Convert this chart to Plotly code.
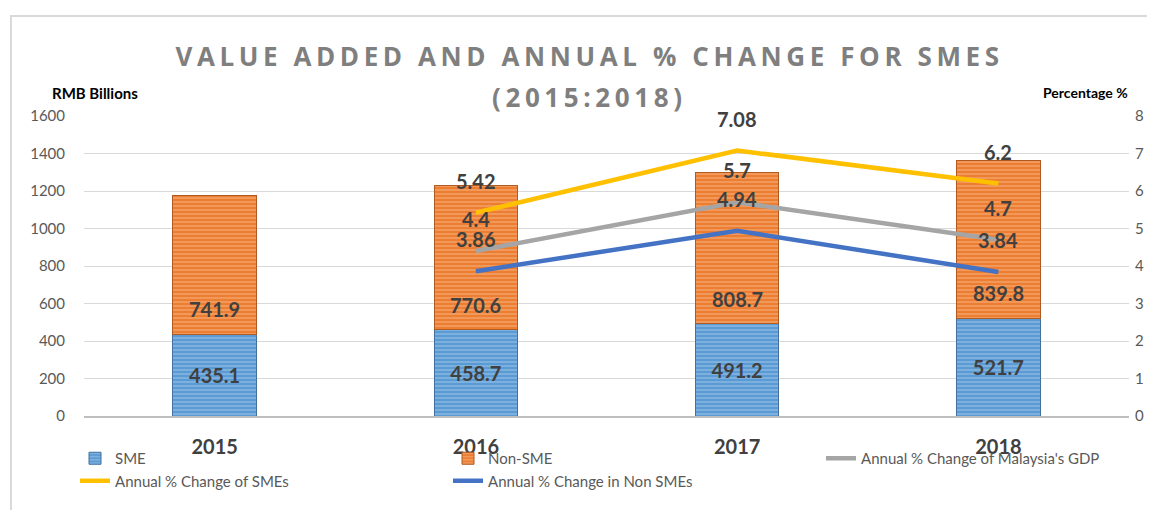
import plotly.graph_objects as go

years = ["2015", "2016", "2017", "2018"]
sme = [435.1, 458.7, 491.2, 521.7]
non_sme = [741.9, 770.6, 808.7, 839.8]
gdp_change = [None, 4.4, 5.7, 4.7]
sme_change = [None, 5.42, 7.08, 6.2]
non_sme_change = [None, 3.86, 4.94, 3.84]

FONT = "Lato"
LBL = "#404040"
TITLE_FONT = dict(family="Open Sans", size=26, color="#7f7f7f", weight="bold")

fig = go.Figure()
fig.add_trace(go.Bar(
    x=years, y=sme, name="SME",
    marker=dict(color="#5b9bd5", line=dict(color="#41719c", width=1),
                pattern=dict(shape="-", fgcolor="#a9cbea", bgcolor="#5b9bd5", size=4, solidity=0.45)),
    text=[f"{v}" for v in sme], textposition="inside", insidetextanchor="middle",
    textfont=dict(family=FONT, size=20, color=LBL, weight="bold"),
    hoverinfo="skip",
))
fig.add_trace(go.Bar(
    x=years, y=non_sme, name="Non-SME",
    marker=dict(color="#ed7d31", line=dict(color="#ae5a21", width=1),
                pattern=dict(shape="-", fgcolor="#f6b98f", bgcolor="#ed7d31", size=4, solidity=0.45)),
    hoverinfo="skip",
))
line_series = [
    ("Annual % Change of Malaysia's GDP", gdp_change, "#a5a5a5"),
    ("Annual % Change of SMEs", sme_change, "#ffc000"),
    ("Annual % Change in Non SMEs", non_sme_change, "#4472c4"),
]
for name, vals, col in line_series:
    fig.add_trace(go.Scatter(x=years, y=vals, name=name, mode="lines", yaxis="y2",
                             line=dict(color=col, width=4.5), hoverinfo="skip"))

annotations = []
lbl_font = dict(family=FONT, size=20, color=LBL, weight="bold")
for i, (base, v) in enumerate(zip(sme, non_sme)):
    annotations.append(dict(x=i, y=base, xref="x", yref="y", text=f"{v}", showarrow=False,
                            xanchor="center", yanchor="middle", yshift=25, font=lbl_font))
for name, vals, col in line_series:
    for i, v in enumerate(vals):
        if v is None:
            continue
        annotations.append(dict(x=i, y=v, xref="x", yref="y2", text=f"{v}", showarrow=False,
                                xanchor="center", yanchor="middle", yshift=32, font=lbl_font))
annotations.append(dict(x=0.0105, y=1.077, xref="paper", yref="paper", text="<b>RMB Billions</b>",
                        xanchor="center", yanchor="middle",
                        showarrow=False, font=dict(family=FONT, size=15, color="#000000")))
annotations.append(dict(x=0.958, y=1.077, xref="paper", yref="paper", text="<b>Percentage %</b>",
                        xanchor="center", yanchor="middle",
                        showarrow=False, font=dict(family=FONT, size=14, color="#000000")))
# second line of the chart title
annotations.append(dict(x=0.4837, y=1.0633, xref="paper", yref="paper",
                        text='<span style="letter-spacing:4.6px">(2015:2018)</span>',
                        xanchor="center", yanchor="middle", showarrow=False, font=TITLE_FONT))

fig.update_layout(
    width=1147, height=502,
    margin=dict(l=76, r=26, t=108, b=94, autoexpand=False),
    paper_bgcolor="white", plot_bgcolor="white",
    barmode="stack", bargap=0.68,
    title=dict(
        text='<span style="letter-spacing:4.6px">VALUE ADDED AND ANNUAL % CHANGE FOR SMES</span>',
        x=0.507, xanchor="center", xref="container",
        y=0.9024, yanchor="middle", yref="container",
        font=TITLE_FONT,
    ),
    xaxis=dict(type="category", range=[-0.5, 3.5],
               tickfont=dict(family=FONT, size=20, color=LBL, weight="bold"),
               showline=True, linecolor="#bfbfbf", linewidth=2,
               ticks="outside", ticklen=12, tickcolor="rgba(0,0,0,0)",
               showgrid=False),
    yaxis=dict(range=[0, 1600], dtick=200, gridcolor="#d9d9d9", gridwidth=1,
               tickfont=dict(family=FONT, size=15, color="#595959"), zeroline=False,
               ticks="outside", ticklen=15, tickcolor="rgba(0,0,0,0)"),
    yaxis2=dict(range=[0, 8], dtick=1, overlaying="y", side="right", showgrid=False,
                tickfont=dict(family=FONT, size=15, color="#595959"), zeroline=False,
                ticks="outside", ticklen=2, tickcolor="rgba(0,0,0,0)"),
    legend=dict(orientation="h", xref="paper", x=-0.0086, xanchor="left",
                yref="paper", y=-0.0867, yanchor="top", bgcolor="rgba(0,0,0,0)",
                entrywidth=328, entrywidthmode="pixels", traceorder="normal",
                font=dict(family=FONT, size=15, color="#595959"), tracegroupgap=0),
    annotations=annotations,
    shapes=[dict(type="rect", xref="paper", yref="paper", x0=-0.0699, x1=1.2, y0=-1.0, y1=1.333,
                 line=dict(color="#d9d9d9", width=2), fillcolor="rgba(0,0,0,0)", layer="below")],
    showlegend=True,
)

fig.write_html("out.html")
